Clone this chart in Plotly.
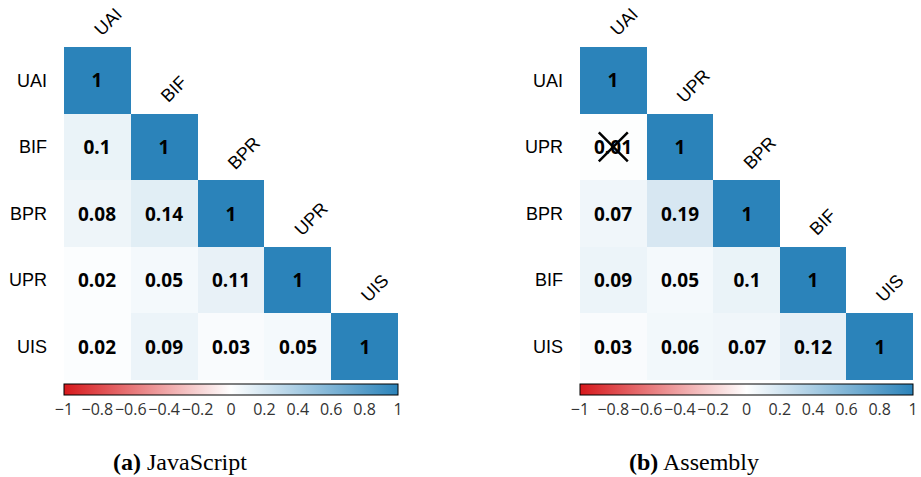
import plotly.graph_objects as go

# Feature order for each language panel
js_labels = ["UAI", "BIF", "BPR", "UPR", "UIS"]
asm_labels = ["UAI", "UPR", "BPR", "BIF", "UIS"]

# Lower-triangular correlation matrices (None = upper triangle, not drawn)
js_corr = [
    [1, None, None, None, None],
    [0.10, 1, None, None, None],
    [0.08, 0.14, 1, None, None],
    [0.02, 0.05, 0.11, 1, None],
    [0.02, 0.09, 0.03, 0.05, 1],
]
asm_corr = [
    [1, None, None, None, None],
    [0.01, 1, None, None, None],
    [0.07, 0.19, 1, None, None],
    [0.09, 0.05, 0.10, 1, None],
    [0.03, 0.06, 0.07, 0.12, 1],
]

# Insignificant correlations that get crossed out: (column, row)
asm_crossed = [("UAI", "UPR")]

cbar_ticks = [-1, -0.8, -0.6, -0.4, -0.2, 0, 0.2, 0.4, 0.6, 0.8, 1]
cbar_ticktext = [f"{t:g}".replace("-", "\u2212") for t in cbar_ticks]

captions = [("(a)", "JavaScript"), ("(b)", "Assembly")]

W, H = 921, 477
colorscale = [[0.0, "#d7191c"], [0.5, "#ffffff"], [1.0, "#2b83ba"]]

panels = [
    dict(labels=js_labels, corr=js_corr, crossed=[], x0=64, x1=398, xa="x", ya="y", cap_x=180),
    dict(labels=asm_labels, corr=asm_corr, crossed=asm_crossed, x0=580, x1=913, xa="x2", ya="y2", cap_x=694),
]
top_px, bot_px = 47, 380
cbar_top_px = 384

fig = go.Figure()
layout_axes = {}
annotations = []

for i, p in enumerate(panels):
    n = len(p["labels"])
    text = [["" if v is None else f"{v:g}" for v in row] for row in p["corr"]]
    cx = (p["x0"] + p["x1"]) / 2 / W
    fig.add_trace(go.Heatmap(
        z=p["corr"], x=p["labels"], y=p["labels"], text=text,
        texttemplate="%{text}",
        textfont=dict(family="Open Sans", size=19, color="black", weight="bold"),
        colorscale=colorscale, zmin=-1, zmax=1, hoverongaps=False,
        xaxis=p["xa"], yaxis=p["ya"],
        colorbar=dict(
            orientation="h", x=cx, xanchor="center",
            y=1 - cbar_top_px / H, yanchor="top",
            len=(p["x1"] - p["x0"]) / W, lenmode="fraction",
            thickness=11, thicknessmode="pixels",
            outlinewidth=1, outlinecolor="black",
            tickvals=cbar_ticks, ticktext=cbar_ticktext, ticks="", tickangle=0,
            tickfont=dict(family="Open Sans", size=16, color="#333333"),
            xpad=0, ypad=0,
        ),
    ))
    if p["crossed"]:
        fig.add_trace(go.Scatter(
            x=[c for c, r in p["crossed"]], y=[r for c, r in p["crossed"]],
            mode="markers", xaxis=p["xa"], yaxis=p["ya"], showlegend=False,
            marker=dict(symbol="x-thin", size=29, line=dict(width=2.5, color="black")),
            hoverinfo="skip",
        ))

    suffix = "" if i == 0 else str(i + 1)
    layout_axes["xaxis" + suffix] = dict(
        domain=[p["x0"] / W, p["x1"] / W], anchor="y" + suffix,
        range=[-0.5, n - 0.5], autorange=False,
        showticklabels=False, showgrid=False, zeroline=False, ticks="",
        categoryorder="array", categoryarray=p["labels"],
    )
    layout_axes["yaxis" + suffix] = dict(
        domain=[1 - bot_px / H, 1 - top_px / H], anchor="x" + suffix,
        range=[n - 0.5, -0.5], autorange=False,
        showgrid=False, zeroline=False, ticks="",
        ticklabelstandoff=16,
        tickfont=dict(family="Liberation Sans", size=18, color="black"),
        categoryorder="array", categoryarray=p["labels"],
    )
    # Diagonal labels, rotated above each diagonal cell
    for lab in p["labels"]:
        annotations.append(dict(
            x=lab, y=lab, xref=p["xa"], yref=p["ya"], text=lab,
            xanchor="left", yanchor="bottom",
            textangle=-45, showarrow=False, xshift=-10, yshift=38,
            font=dict(family="Liberation Sans", size=18, color="black"),
        ))
    tag, name = captions[i]
    annotations.append(dict(
        x=p["cap_x"] / W, y=1 - 462 / H, xref="paper", yref="paper",
        xanchor="center", yanchor="middle",
        text=f"<b>{tag}</b> {name}", showarrow=False,
        font=dict(family="Liberation Serif", size=24, color="black"),
    ))

fig.update_layout(
    width=W, height=H, margin=dict(l=0, r=0, t=0, b=0, autoexpand=False),
    paper_bgcolor="white", plot_bgcolor="white",
    showlegend=False, annotations=annotations, **layout_axes,
)

fig.write_html("out.html")
